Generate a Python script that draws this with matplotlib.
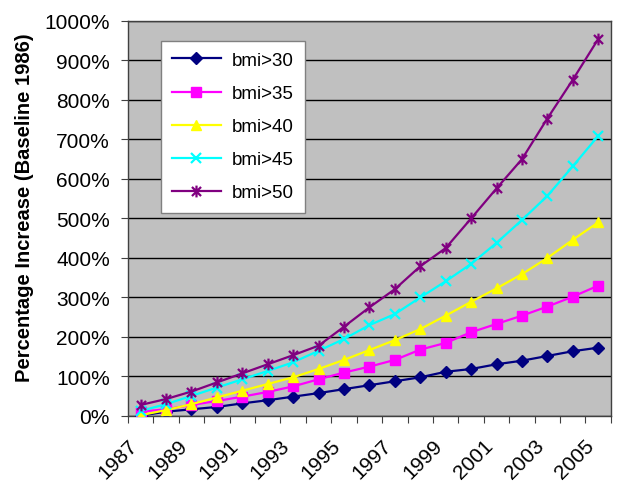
import numpy as np
import matplotlib.pyplot as plt
from matplotlib.path import Path

plt.rcParams['font.family'] = ['Liberation Sans', 'DejaVu Sans']

# data: percentage increase vs 1986 baseline
years = list(range(1987, 2006))
bmi30 = [0, 10, 16, 22, 31, 39, 48, 57, 67, 77, 87, 97, 111, 118, 130, 139, 151, 163, 172]
bmi35 = [10, 16, 27, 37, 48, 60, 74, 92, 109, 124, 141, 167, 184, 211, 232, 253, 276, 301, 329]
bmi40 = [1, 14, 29, 46, 63, 80, 97, 118, 141, 166, 191, 219, 253, 288, 322, 358, 399, 445, 489]
bmi45 = [12, 29, 50, 71, 92, 113, 135, 164, 194, 229, 257, 299, 340, 384, 437, 495, 556, 631, 708]
bmi50 = [27, 42, 61, 84, 107, 130, 153, 177, 225, 274, 320, 378, 424, 499, 575, 649, 752, 850, 953]
labels = ['bmi>30', 'bmi>35', 'bmi>40', 'bmi>45', 'bmi>50']

# excel style asterisk: x plus vertical bar
star = Path([(-1, -1), (1, 1), (-1, 1), (1, -1), (0, -1.3), (0, 1.3)],
            [Path.MOVETO, Path.LINETO, Path.MOVETO, Path.LINETO, Path.MOVETO, Path.LINETO])

styles = [
    ('#000080', 'D', 6.5),
    ('#FF00FF', 's', 6.5),
    ('#FFFF00', '^', 7.5),
    ('#00FFFF', 'x', 7.5),
    ('#800080', star, 8.5),
]

fig = plt.figure(figsize=(6.24, 4.89), dpi=100)
ax = fig.add_axes([0.205, 0.148, 0.774, 0.808])
ax.set_facecolor('#C0C0C0')

x = np.arange(len(years))
for series, lab, (col, mk, ms) in zip([bmi30, bmi35, bmi40, bmi45, bmi50], labels, styles):
    ax.plot(x, series, color=col, marker=mk, markersize=ms, linewidth=1.6,
            markeredgewidth=1.6 if mk in ('x',) or mk is star else 1.0,
            markerfacecolor=col, markeredgecolor=col, label=lab, zorder=3)

ax.set_xlim(-0.5, len(years) - 0.5)
ax.set_ylim(0, 1000)
ax.set_yticks(np.arange(0, 1001, 100))
ax.set_yticklabels([f'{v}%' for v in range(0, 1001, 100)], fontsize=15)
ax.yaxis.grid(True, color='black', linewidth=1.0)
ax.set_axisbelow(True)

# ticks between categories, labels every other year
ax.set_xticks(np.arange(-0.5, len(years), 1.0))
ax.set_xticklabels([])
ax.set_xticks(x[::2], minor=True)
ax.set_xticklabels([str(y) for y in years[::2]], minor=True, fontsize=15,
                   rotation=45, ha='right', va='top')
ax.tick_params(axis='x', which='minor', length=0, pad=14)
ax.tick_params(axis='both', which='major', direction='out', length=5, color='#404040')
ax.tick_params(axis='y', which='major', pad=8)

for s in ax.spines.values():
    s.set_color('#404040')
    s.set_linewidth(1.0)

ax.set_ylabel('Percentage Increase (Baseline 1986)', fontsize=14.5, fontweight='bold')
ax.yaxis.set_label_coords(-0.195, 0.53)

leg = ax.legend(loc='upper left', bbox_to_anchor=(0.068, 0.949), borderaxespad=0,
                fontsize=13.5, frameon=True, fancybox=False, edgecolor='#808080',
                framealpha=1, handlelength=2.6, handletextpad=0.6, labelspacing=0.85,
                borderpad=0.6)
leg.get_frame().set_linewidth(1.0)

fig.savefig('out.png', dpi=100)
